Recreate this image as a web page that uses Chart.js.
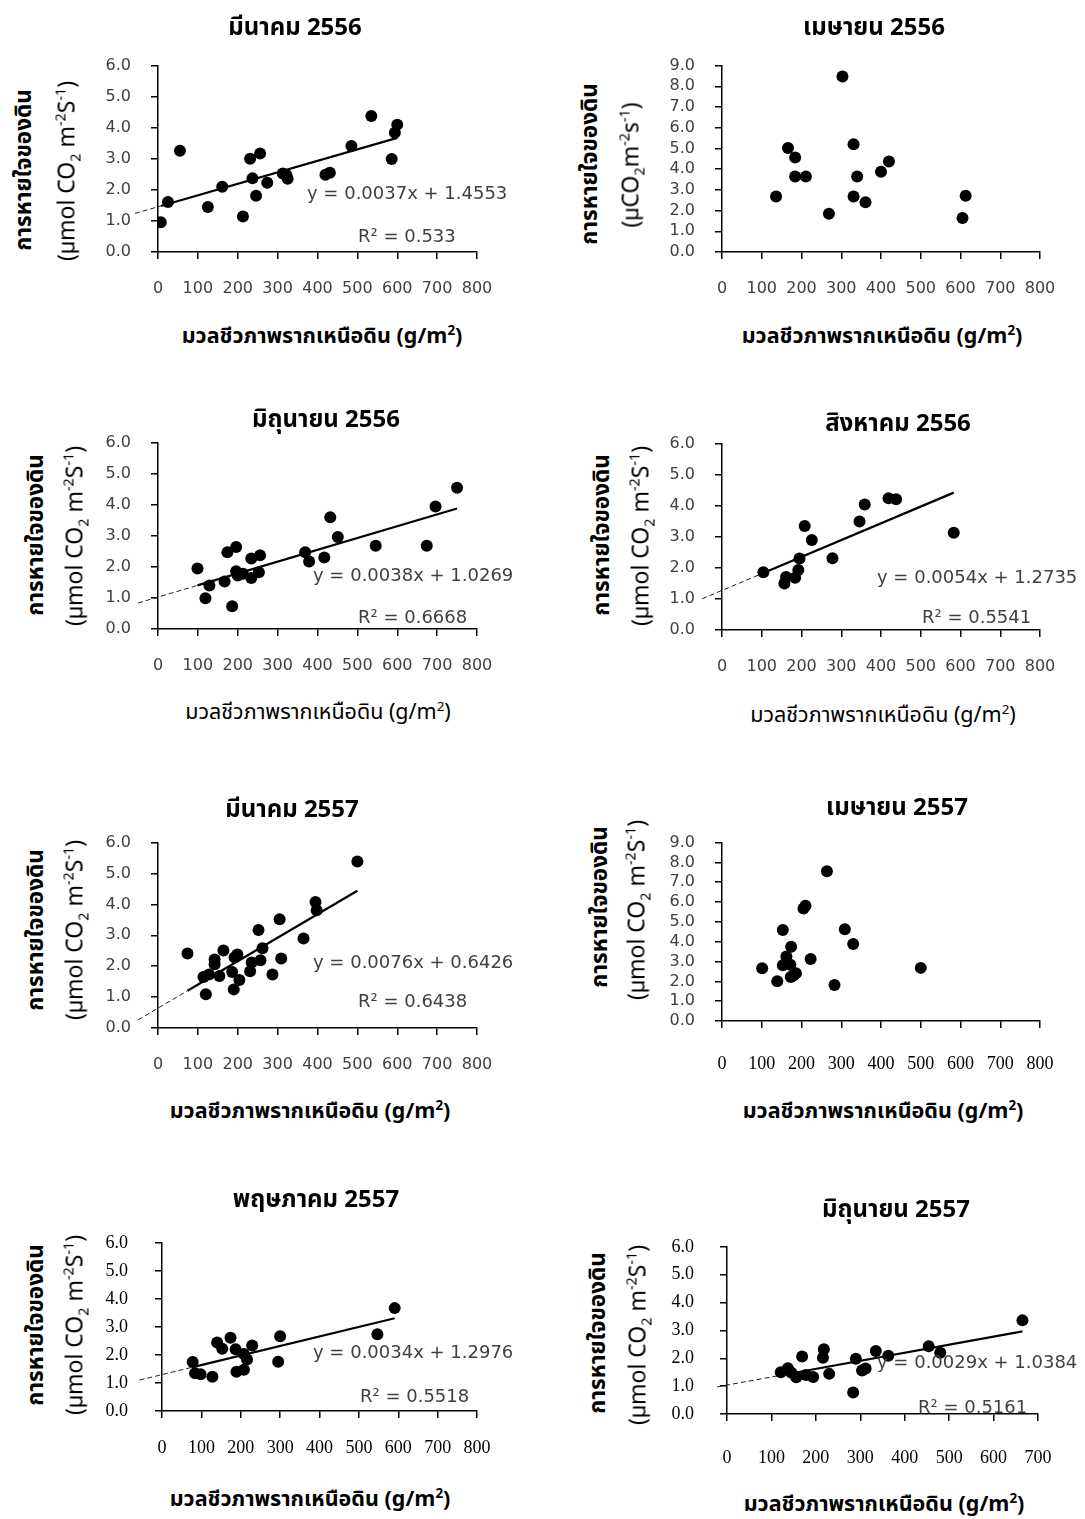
<!DOCTYPE html>
<html>
<head>
<meta charset="utf-8">
<script src="https://cdn.jsdelivr.net/npm/chart.js@4.4.1/dist/chart.umd.min.js"></script>
<style>
  html, body { margin: 0; padding: 0; background: #fff; }
  #page { position: relative; width: 1085px; height: 1519px; overflow: hidden; background: #fff; }
  #page canvas { position: absolute; }
  .lbl { position: absolute; white-space: nowrap; line-height: 1; }
  .thai { font-family: "Noto Sans Thai", "Noto Sans Thai UI", "Tahoma", "Leelawadee UI", "Garuda", "Loma", "DejaVu Sans", sans-serif; }
  .title { font-weight: bold; font-size: 24px; color: #000; transform: translate(-50%, -50%); }
  .ytitle { font-size: 23px; color: #000; transform: translate(-50%, -50%) rotate(-90deg); }
  .ytitle.b { font-weight: bold; font-size: 22.5px; }
  .xtitle { font-size: 21.5px; color: #000; transform: translate(-50%, -50%); }
  .xtitle.b { font-weight: bold; }
  .eq { font-family: "DejaVu Sans", sans-serif; font-size: 18px; color: #404040; transform: translateY(-50%); }
  sub, sup { font-size: 0.62em; line-height: 0; }
</style>
</head>
<body>
<div id="page"></div>
<script>
// Panel headings (month, Buddhist-era year)
const panelTitles = ['มีนาคม 2556', 'เมษายน 2556', 'มิถุนายน 2556', 'สิงหาคม 2556',
                     'มีนาคม 2557', 'เมษายน 2557', 'พฤษภาคม 2557', 'มิถุนายน 2557'];

// Above-ground root biomass (g/m2) and soil respiration (umol CO2 m-2 s-1) per plot
const mar56Biomass = [7, 25, 55, 125, 161, 213, 231, 237, 246, 256, 274, 313, 322, 325, 420, 431, 485, 535, 586, 594, 600];
const mar56Resp    = [0.96, 1.61, 3.26, 1.45, 2.10, 1.14, 3.00, 2.37, 1.81, 3.17, 2.23, 2.53, 2.48, 2.36, 2.49, 2.55, 3.41, 4.38, 2.99, 3.84, 4.10];

const apr56Biomass = [136, 166, 184, 184, 211, 269, 303, 331, 331, 340, 361, 400, 420, 605, 613];
const apr56Resp    = [2.68, 5.02, 4.56, 3.64, 3.64, 1.85, 8.47, 5.20, 2.68, 3.64, 2.40, 3.87, 4.37, 1.64, 2.72];

const jun56Biomass = [99, 119, 129, 167, 174, 186, 196, 196, 200, 213, 234, 234, 253, 256, 369, 379, 417, 432, 451, 546, 674, 696, 750];
const jun56Resp    = [1.95, 0.99, 1.40, 1.53, 2.47, 0.73, 2.64, 1.86, 1.72, 1.78, 2.27, 1.64, 1.83, 2.37, 2.47, 2.17, 2.30, 3.60, 2.96, 2.68, 2.68, 3.94, 4.55];

const aug56Biomass = [104, 157, 161, 184, 192, 195, 208, 226, 278, 346, 359, 419, 438, 583];
const aug56Resp    = [1.86, 1.50, 1.71, 1.68, 1.93, 2.30, 3.35, 2.90, 2.31, 3.49, 4.04, 4.24, 4.21, 3.13];

const mar57Biomass = [74, 114, 120, 128, 142, 142, 154, 164, 186, 190, 192, 199, 204, 231, 235, 252, 257, 262, 287, 305, 309, 365, 395, 398, 500];
const mar57Resp    = [2.41, 1.65, 1.09, 1.73, 2.22, 2.06, 1.68, 2.51, 1.81, 1.25, 2.28, 2.38, 1.55, 1.84, 2.12, 3.17, 2.19, 2.58, 1.73, 3.52, 2.25, 2.90, 4.08, 3.81, 5.39];

const apr57Biomass = [101, 139, 153, 153, 162, 172, 174, 173, 180, 186, 205, 210, 223, 264, 283, 309, 330, 500];
const apr57Resp    = [2.66, 2.01, 4.59, 2.81, 3.25, 2.84, 3.75, 2.22, 2.30, 2.41, 5.68, 5.81, 3.13, 7.56, 1.82, 4.63, 3.89, 2.68];

const may57Biomass = [78, 84, 98, 128, 140, 153, 174, 187, 189, 208, 208, 216, 229, 295, 300, 547, 591];
const may57Resp    = [1.75, 1.35, 1.31, 1.22, 2.44, 2.22, 2.61, 2.20, 1.40, 2.03, 1.47, 1.84, 2.34, 1.76, 2.67, 2.74, 3.67];

const jun57Biomass = [121, 137, 145, 156, 169, 178, 194, 216, 218, 230, 284, 290, 304, 312, 335, 363, 454, 480, 665];
const jun57Resp    = [1.50, 1.64, 1.48, 1.32, 2.06, 1.40, 1.33, 2.02, 2.32, 1.44, 0.77, 1.98, 1.56, 1.63, 2.26, 2.09, 2.43, 2.20, 3.36];

const biomassSeries = [mar56Biomass, apr56Biomass, jun56Biomass, aug56Biomass, mar57Biomass, apr57Biomass, may57Biomass, jun57Biomass];
const respSeries    = [mar56Resp, apr56Resp, jun56Resp, aug56Resp, mar57Resp, apr57Resp, may57Resp, jun57Resp];

// Linear fits (null where no fit is shown)
const slopes      = [0.0037, null, 0.0038, 0.0054, 0.0076, null, 0.0034, 0.0029];
const intercepts  = [1.4553, null, 1.0269, 1.2735, 0.6426, null, 1.2976, 1.0384];
const rSquared    = ['0.533', null, '0.6668', '0.5541', '0.6438', null, '0.5518', '0.5161'];
// Backward extension of each fit line (x where the dashed part begins)
const backcastFrom = [-58, null, -50, -50, -50, null, -57, -22];

// Axis ranges and tick labels
const xMaxes = [800, 800, 800, 800, 800, 800, 800, 700];
const yMaxes = [6, 9, 6, 6, 6, 9, 6, 6];
const xTickStep = 100;
const yTickStep = 1;

// Plot-area rectangles on the page
const plotBoxes = [
  { l: 158, t: 56,   r: 477,  b: 252 },
  { l: 722, t: 56,   r: 1040, b: 252 },
  { l: 158, t: 433,  r: 477,  b: 629 },
  { l: 722, t: 434,  r: 1040, b: 630 },
  { l: 158, t: 833,  r: 477,  b: 1028 },
  { l: 722, t: 833,  r: 1040, b: 1021 },
  { l: 162, t: 1225, r: 477,  b: 1411 },
  { l: 727, t: 1230, r: 1038, b: 1414 }
];

const SANS = '"DejaVu Sans", sans-serif';
const SERIF = '"Liberation Serif", "Times New Roman", serif';
const yTickSerif = [false, false, false, false, false, false, true, true];
const xTickSerif = [false, false, false, false, false, true, true, true];
const xTickPad = [20, 20, 20, 20, 20, 25, 19, 26];
const yTickPad = [20, 20, 20, 20, 20, 20, 27, 26];

// Text placement
const titlePos  = [[295, 28], [874, 28], [326, 420], [898, 424], [292, 810], [897, 808], [316, 1200], [896, 1210]];
const yTitle1Pos = [[24, 170], [590, 164], [36, 535], [602, 535], [36, 930], [600, 907], [36, 1325], [598, 1333]];
const yTitle2Pos = [[68, 171], [632, 165], [76, 536], [642, 536], [76, 930], [638, 910], [76, 1325], [639, 1335]];
const xTitlePos = [[322, 337], [882, 337], [318, 713], [883, 716], [310, 1112], [883, 1112], [310, 1500], [884, 1505]];
const xTitleBold = [true, true, false, false, true, true, true, true];
const eqPos = [[307, 193], null, [313, 575], [877, 577], [313, 962], null, [313, 1352], [877, 1362]];
const r2Pos = [[358, 236], null, [358, 617], [922, 617], [358, 1001], null, [360, 1396], [918, 1407]];

const page = document.getElementById('page');

function addLabel(cls, html, x, y) {
  const d = document.createElement('div');
  d.className = 'lbl ' + cls;
  d.innerHTML = html;
  d.style.left = x + 'px';
  d.style.top = y + 'px';
  page.appendChild(d);
  return d;
}

const PAD_L = 80, PAD_T = 20, PAD_R = 40, PAD_B = 60;

function buildPanel(i) {
  const box = plotBoxes[i];
  const w = box.r - box.l + PAD_L + PAD_R;
  const h = box.b - box.t + PAD_T + PAD_B;
  const canvas = document.createElement('canvas');
  canvas.width = w; canvas.height = h;
  canvas.style.width = w + 'px'; canvas.style.height = h + 'px';
  canvas.style.left = (box.l - PAD_L) + 'px';
  canvas.style.top = (box.t - PAD_T) + 'px';
  page.appendChild(canvas);

  const xs = biomassSeries[i], ys = respSeries[i];
  const datasets = [{
    data: xs.map((x, j) => ({ x: x, y: ys[j] })),
    pointRadius: 6,
    pointBackgroundColor: '#000',
    pointBorderWidth: 0,
    showLine: false
  }];

  if (slopes[i] !== null) {
    const f = x => slopes[i] * x + intercepts[i];
    const x0 = Math.min(...xs), x1 = Math.max(...xs);
    datasets.push({
      data: [{ x: x0, y: f(x0) }, { x: x1, y: f(x1) }],
      showLine: true, borderColor: '#000', borderWidth: 2.2, pointRadius: 0
    });
    datasets.push({
      data: [{ x: backcastFrom[i], y: f(backcastFrom[i]) }, { x: x0, y: f(x0) }],
      showLine: true, borderColor: '#222', borderWidth: 1, borderDash: [5, 3],
      pointRadius: 0, clip: false
    });
  }

  const ySerif = yTickSerif[i], xSerif = xTickSerif[i];
  const axisColor = '#000';
  new Chart(canvas, {
    type: 'scatter',
    data: { datasets: datasets },
    options: {
      responsive: false,
      animation: false,
      devicePixelRatio: 1,
      layout: { padding: { top: PAD_T, right: PAD_R, left: 0, bottom: 0 } },
      plugins: { legend: { display: false }, tooltip: { enabled: false } },
      scales: {
        x: {
          type: 'linear', min: 0, max: xMaxes[i],
          afterFit: s => { s.height = PAD_B; },
          border: { display: true, color: axisColor, width: 1.5 },
          grid: { display: true, drawOnChartArea: false, drawTicks: true, tickLength: 7, color: axisColor, lineWidth: 1.5 },
          ticks: {
            stepSize: xTickStep, padding: xTickPad[i],
            color: xSerif ? '#000' : '#404040',
            font: { family: xSerif ? SERIF : SANS, size: xSerif ? 18 : 16 },
            maxRotation: 0, autoSkip: false
          }
        },
        y: {
          type: 'linear', min: 0, max: yMaxes[i],
          afterFit: s => { s.width = PAD_L; },
          border: { display: true, color: axisColor, width: 1.5 },
          grid: { display: true, drawOnChartArea: false, drawTicks: true, tickLength: 7, color: axisColor, lineWidth: 1.5 },
          ticks: {
            stepSize: yTickStep, padding: yTickPad[i],
            color: ySerif ? '#000' : '#404040',
            font: { family: ySerif ? SERIF : SANS, size: ySerif ? 18 : 16 },
            callback: v => Number(v).toFixed(1),
            autoSkip: false
          }
        }
      }
    }
  });

  // Headings and axis titles
  addLabel('thai title', panelTitles[i], titlePos[i][0], titlePos[i][1]);
  addLabel('thai ytitle b', 'การหายใจของดิน', yTitle1Pos[i][0], yTitle1Pos[i][1]);
  const unit = (i === 1) ? '(µCO<sub>2</sub>m<sup>-2</sup>s<sup>-1</sup>)'
                         : '(µmol CO<sub>2</sub> m<sup>-2</sup>S<sup>-1</sup>)';
  addLabel('thai ytitle', unit, yTitle2Pos[i][0], yTitle2Pos[i][1]);
  addLabel('thai xtitle' + (xTitleBold[i] ? ' b' : ''), 'มวลชีวภาพรากเหนือดิน (g/m<sup>2</sup>)', xTitlePos[i][0], xTitlePos[i][1]);

  if (slopes[i] !== null) {
    addLabel('eq', 'y = ' + slopes[i].toFixed(4) + 'x + ' + intercepts[i].toFixed(4), eqPos[i][0], eqPos[i][1]);
    addLabel('eq', 'R² = ' + rSquared[i], r2Pos[i][0], r2Pos[i][1]);
  }
}

for (let i = 0; i < 8; i++) buildPanel(i);
</script>
</body>
</html>
